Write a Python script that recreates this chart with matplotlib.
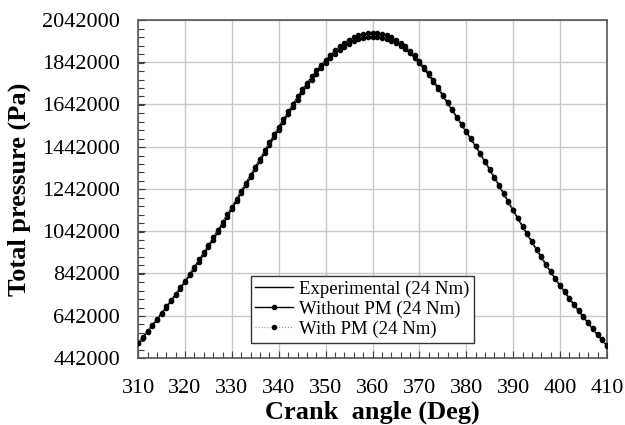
import matplotlib
matplotlib.use("Agg")
import matplotlib.pyplot as plt
from matplotlib.ticker import MultipleLocator

# crank angle (deg)
crank_angle = list(range(310, 411))

# total pressure (Pa) at each degree
experimental = [
    512000, 540000, 568000, 597000, 626000, 655000, 684000, 714000, 744000, 775000,
    806000, 839000, 872000, 906000, 940000, 975000, 1010000, 1046000, 1082000, 1119000,
    1156000, 1194000, 1232000, 1270000, 1308000, 1346000, 1384000, 1422000, 1460000, 1498000,
    1535000, 1571000, 1607000, 1642000, 1678000, 1712000, 1743000, 1773000, 1801000, 1828000,
    1852000, 1875000, 1896000, 1915000, 1932000, 1946000, 1958000, 1967000, 1973000, 1977000,
    1978000, 1977000, 1973000, 1967000, 1958000, 1946000, 1932000, 1915000, 1895000, 1872000,
    1846000, 1818000, 1788000, 1756000, 1722000, 1687000, 1652000, 1617000, 1582000, 1548000,
    1514000, 1480000, 1445000, 1409000, 1372000, 1335000, 1297000, 1259000, 1220000, 1181000,
    1142000, 1104000, 1066000, 1029000, 992000, 956000, 920000, 885000, 851000, 818000,
    786000, 755000, 724000, 694000, 665000, 636000, 608000, 580000, 553000, 527000,
    501000,
]

without_pm = [
    510000, 537000, 565000, 593000, 622000, 651000, 680000, 709000, 739000, 769000,
    800000, 832000, 865000, 898000, 932000, 966000, 1001000, 1037000, 1073000, 1109000,
    1146000, 1183000, 1221000, 1259000, 1297000, 1335000, 1373000, 1411000, 1449000, 1486000,
    1523000, 1559000, 1595000, 1630000, 1665000, 1699000, 1730000, 1760000, 1788000, 1814000,
    1839000, 1861000, 1881000, 1900000, 1916000, 1930000, 1942000, 1951000, 1957000, 1961000,
    1962000, 1961000, 1958000, 1952000, 1944000, 1933000, 1919000, 1903000, 1884000, 1862000,
    1837000, 1810000, 1781000, 1750000, 1717000, 1683000, 1648000, 1614000, 1580000, 1546000,
    1512000, 1478000, 1443000, 1407000, 1370000, 1333000, 1295000, 1257000, 1218000, 1179000,
    1140000, 1102000, 1064000, 1027000, 990000, 954000, 918000, 883000, 849000, 816000,
    784000, 753000, 722000, 692000, 663000, 634000, 606000, 578000, 551000, 525000,
    499000,
]

with_pm = [
    513000, 541000, 569000, 598000, 627000, 656000, 686000, 716000, 746000, 777000,
    808000, 841000, 874000, 908000, 942000, 977000, 1012000, 1048000, 1084000, 1121000,
    1158000, 1196000, 1234000, 1272000, 1310000, 1348000, 1386000, 1424000, 1462000, 1500000,
    1537000, 1573000, 1609000, 1644000, 1680000, 1714000, 1745000, 1775000, 1803000, 1830000,
    1854000, 1877000, 1898000, 1917000, 1934000, 1948000, 1960000, 1969000, 1975000, 1979000,
    1980000, 1979000, 1975000, 1969000, 1960000, 1948000, 1934000, 1917000, 1897000, 1874000,
    1848000, 1820000, 1790000, 1758000, 1724000, 1689000, 1654000, 1619000, 1584000, 1550000,
    1516000, 1482000, 1447000, 1411000, 1374000, 1337000, 1299000, 1261000, 1222000, 1183000,
    1144000, 1106000, 1068000, 1031000, 994000, 958000, 922000, 887000, 853000, 820000,
    788000, 757000, 726000, 696000, 667000, 638000, 610000, 582000, 555000, 529000,
    503000,
]

y_ticks = [442000, 642000, 842000, 1042000, 1242000, 1442000, 1642000, 1842000, 2042000]
x_ticks = [310, 320, 330, 340, 350, 360, 370, 380, 390, 400, 410]

plt.rcParams['font.family'] = ['Liberation Serif', 'DejaVu Serif']

fig = plt.figure(figsize=(6.25, 4.25), dpi=100)
ax = fig.add_axes([0.221, 0.158, 0.75, 0.795])

ax.plot(crank_angle, experimental, color='black', linewidth=1.0,
        label='Experimental (24 Nm)', zorder=3)
ax.plot(crank_angle, without_pm, color='black', linewidth=1.0, marker='o',
        markersize=3.0, label='Without PM (24 Nm)', zorder=4)
ax.plot(crank_angle, with_pm, color='#999999', linewidth=0.8, linestyle=':',
        marker='o', markersize=3.0, markerfacecolor='black', markeredgecolor='black',
        label='With PM (24 Nm)', zorder=5)

ax.set_xlim(310, 410)
ax.set_ylim(442000, 2042000)
ax.set_xticks(x_ticks)
ax.set_yticks(y_ticks)
ax.set_yticklabels([str(v) for v in y_ticks])
ax.xaxis.set_minor_locator(MultipleLocator(2))
ax.yaxis.set_minor_locator(MultipleLocator(40000))
ax.tick_params(which='both', direction='in', top=False, right=False, labelsize=16,
               color='#404040')
ax.tick_params(which='major', length=5, width=0.8)
ax.tick_params(which='minor', length=4, width=0.8)
ax.tick_params(axis='x', pad=15)
ax.tick_params(axis='y', pad=13)

ax.grid(True, which='major', color='#c8c8c8', linewidth=1.0)
ax.set_axisbelow(True)
for s in ax.spines.values():
    s.set_color('#555555')
    s.set_linewidth(1.2)

ax.set_xlabel('Crank  angle (Deg)', fontsize=19, fontweight='bold', labelpad=2)
ax.set_ylabel('Total pressure (Pa)', fontsize=19, fontweight='bold', labelpad=8)

leg = ax.legend(loc='lower center', bbox_to_anchor=(0.478, 0.045), fontsize=13.5,
                frameon=True, fancybox=False, framealpha=1, edgecolor='#333333',
                handlelength=2.0, handletextpad=0.3, borderpad=0.25, labelspacing=0.15,
                borderaxespad=0.0)
leg.get_frame().set_linewidth(1.0)

fig.savefig('out.png', dpi=100)
